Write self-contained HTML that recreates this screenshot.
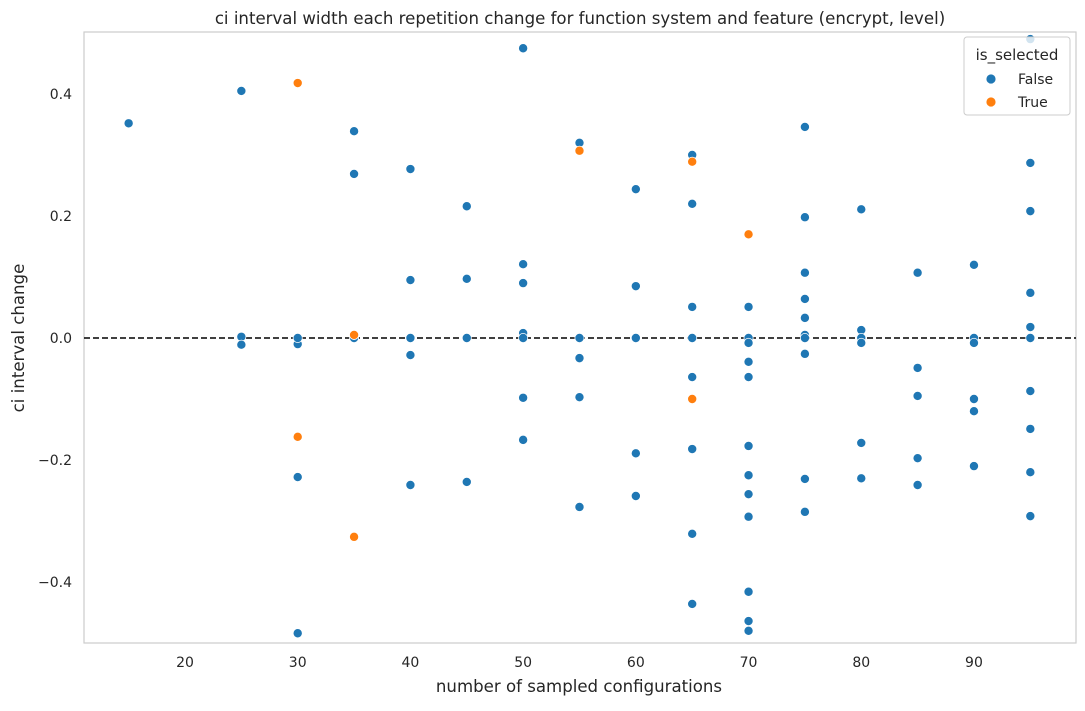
<!DOCTYPE html>
<html><head><meta charset="utf-8"><style>
body{margin:0;background:#fff;font-family:"Liberation Sans","DejaVu Sans",sans-serif}
text{font-family:"DejaVu Sans","Liberation Sans",sans-serif;fill:#262626}
</style></head><body>
<svg id="chart" width="1085" height="706" xmlns="http://www.w3.org/2000/svg">
<text x="580" y="24" font-size="16.6" text-anchor="middle">ci interval width each repetition change for function system and feature (encrypt, level)</text>
<rect x="84" y="32" width="992" height="611" fill="none" stroke="#cccccc" stroke-width="1.2"/>
<g id="xt"></g><g id="yt"></g>
<line x1="84" x2="1076" y1="338" y2="338" stroke="#000" stroke-width="1.6" stroke-dasharray="6,3"/>
<g id="pts"></g>
<text x="579" y="692" font-size="16.6" text-anchor="middle">number of sampled configurations</text>
<text transform="translate(24,338) rotate(-90)" font-size="16.6" text-anchor="middle">ci interval change</text>
<g>
<rect x="964" y="37" width="106" height="78" fill="#fff" fill-opacity="0.8" stroke="#cccccc" rx="3"/>
<text x="1017" y="60" font-size="15" text-anchor="middle">is_selected</text>
<circle cx="991" cy="79" r="5" fill="#1f77b4" stroke="#fff" stroke-width="0.8"/>
<text x="1018" y="84" font-size="14">False</text>
<circle cx="991" cy="102" r="5" fill="#ff7f0e" stroke="#fff" stroke-width="0.8"/>
<text x="1018" y="107" font-size="14">True</text>
</g>
</svg>
<script>
const xTicks=[20,30,40,50,60,70,80,90];
const yTicks=[-0.4,-0.2,0.0,0.2,0.4];
const yTickLabels=["\u22120.4","\u22120.2","0.0","0.2","0.4"];
const falseX=[15,25,25,25,30,30,30,30,35,35,35,40,40,40,40,40,45,45,45,45,50,50,50,50,50,50,50,55,55,55,55,55,60,60,60,60,60,65,65,65,65,65,65,65,65,70,70,70,70,70,70,70,70,70,70,70,70,75,75,75,75,75,75,75,75,75,75,80,80,80,80,80,80,85,85,85,85,85,90,90,90,90,90,90,95,95,95,95,95,95,95,95,95,95];
const falseY=[0.352,0.405,0.002,-0.011,-0.484,-0.228,-0.01,0,0.339,0.269,0,0.277,0.095,0,-0.028,-0.241,0.216,0.097,0,-0.236,0.475,0.121,0.09,0.008,0,-0.098,-0.167,0.32,0,-0.033,-0.097,-0.277,0.244,0.085,0,-0.189,-0.259,0.3,0.22,0.051,0,-0.064,-0.182,-0.321,-0.436,0.051,0,-0.008,-0.039,-0.064,-0.177,-0.225,-0.256,-0.293,-0.416,-0.464,-0.48,0.346,0.198,0.107,0.064,0.033,0.005,0,-0.026,-0.231,-0.285,0.211,0.013,0,-0.008,-0.172,-0.23,0.107,-0.049,-0.095,-0.197,-0.241,0.12,0,-0.008,-0.1,-0.12,-0.21,0.49,0.287,0.208,0.074,0.018,0,-0.087,-0.149,-0.22,-0.292];
const trueX=[30,30,35,35,55,65,65,70];
const trueY=[0.418,-0.162,0.005,-0.326,0.307,0.289,-0.1,0.17];
const NS="http://www.w3.org/2000/svg";
function sx(v){return 185+(v-20)*11.271;}
function sy(v){return 338-v*610;}
const xt=document.getElementById('xt'),yt=document.getElementById('yt'),pts=document.getElementById('pts');
xTicks.forEach(v=>{const t=document.createElementNS(NS,'text');


t.setAttribute('x',sx(v));t.setAttribute('y',667);t.setAttribute('font-size','14');t.setAttribute('text-anchor','middle');t.textContent=v;xt.appendChild(t);});
yTicks.forEach((v,i)=>{const t=document.createElementNS(NS,'text');


t.setAttribute('x',72);t.setAttribute('y',sy(v)+5);t.setAttribute('font-size','14');t.setAttribute('text-anchor','end');t.textContent=yTickLabels[i];yt.appendChild(t);});
function dots(xs,ys,col,name){xs.forEach((x,i)=>{const c=document.createElementNS(NS,'circle');


c.setAttribute('cx',sx(x));c.setAttribute('cy',sy(ys[i]));c.setAttribute('r',4.6);c.setAttribute('fill',col);c.setAttribute('stroke','#fff');c.setAttribute('stroke-width','0.8');pts.appendChild(c);});}
dots(falseX,falseY,'#1f77b4','point-false');
dots(trueX,trueY,'#ff7f0e','point-true');
</script>
</body></html>
